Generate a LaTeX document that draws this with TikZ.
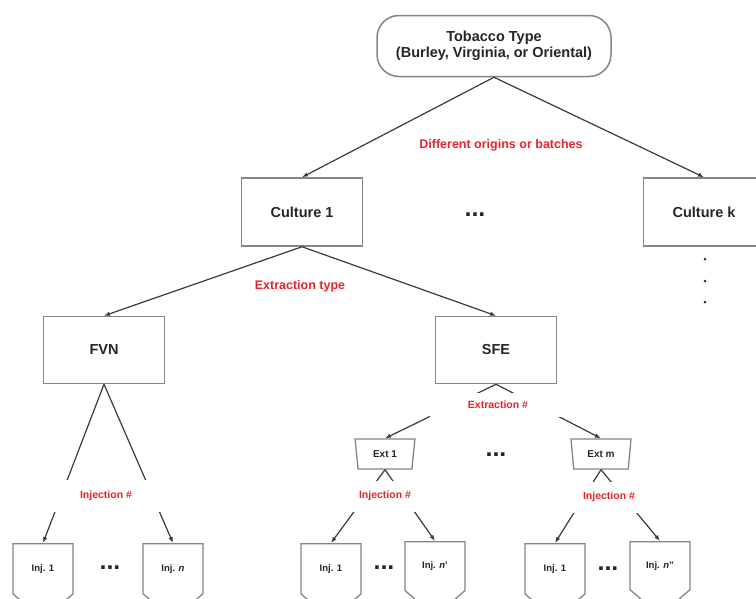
\documentclass[tikz,border=0pt]{standalone}
\usepackage{fontspec}
\setmainfont{Liberation Sans}
\usetikzlibrary{arrows.meta,shapes.geometric,shapes.symbols}
\definecolor{lnk}{HTML}{3A3A3A}
\definecolor{frm}{HTML}{858585}
\definecolor{lbl}{HTML}{E8232B}
\tikzset{box/.style={draw=frm, line width=1.5pt, fill=white, minimum width=121pt, minimum height=67pt, inner sep=0pt, font=\fontsize{14.5}{16}\selectfont\bfseries, text=black!85},
  extbox/.style={trapezium, trapezium left angle=79, trapezium right angle=79, shape border rotate=180, trapezium stretches=true, draw=frm, line width=1.3pt, fill=white, minimum width=60pt, minimum height=30pt, inner sep=0pt, font=\fontsize{10}{12}\selectfont\bfseries, text=black!85},
  injbox/.style={signal, signal to=south, signal pointer angle=98, draw=frm, line width=1.3pt, fill=white, minimum width=60pt, minimum height=60pt, inner sep=0pt, anchor=north, font=\fontsize{9.5}{11}\selectfont\bfseries, text=black!85},
  arr/.style={-{Latex[length=6pt,width=4.5pt]}, line width=1.2pt, lnk},
  tag/.style={font=\fontsize{12.5}{14}\selectfont\bfseries, text=lbl},
  stag/.style={font=\fontsize{10.5}{12}\selectfont\bfseries, text=lbl, fill=white, inner sep=0pt},
  more/.style={font=\fontsize{25}{25}\selectfont\bfseries, text=black!85}}
\begin{document}
\begin{tikzpicture}[x=1pt,y=-1pt]
\useasboundingbox (0,0) rectangle (756,598);
\clip (0,0) rectangle (756,598);
% ---- tobacco type and cultures ----
\node[box, rounded corners=22pt, minimum width=234pt, minimum height=61pt, align=center] (type) at (494,46) {Tobacco Type\\(Burley, Virginia, or Oriental)};
\node[box, minimum height=68pt] (cult1) at (302,212) {Culture 1};
\node[box, minimum height=68pt] (cultk) at (704,212) {Culture k};
\node[more] (cdots) at (475,215) {...};
\foreach \y in {259,281,302} \fill[black!80] (705,\y) circle (1.5pt);
\draw[arr] (type.south) -- (cult1.north);
\draw[arr] (type.south) -- (cultk.north);
\node[tag] (origin) at (501,145) {Different origins or batches};
% ---- extraction type ----
\node[box] (fvn) at (104,350) {FVN};
\node[box] (sfe) at (496,350) {SFE};
\draw[arr] (cult1.south) -- (fvn.north);
\draw[arr] (cult1.south) -- (sfe.north);
\node[tag] (xtype) at (300,286) {Extraction type};
% ---- FVN injections ----
\node[injbox] (fa1) at (43,543) {Inj. 1};
\node[injbox] (fan) at (173,543) {Inj. \textit{n}};
\draw[arr] (fvn.south) -- (fa1.north);
\draw[arr] (fvn.south) -- (fan.north);
\node[stag, minimum width=112pt, minimum height=32pt] (finj) at (106,496) {Injection \#};
\node[more] (fdots) at (110,568) {...};
% ---- SFE extractions ----
\node[extbox] (ext1) at (385,454) {Ext 1};
\node[extbox] (extm) at (601,454) {Ext m};
\draw[arr] (sfe.south) -- (ext1.north);
\draw[arr] (sfe.south) -- (extm.north);
\node[stag, minimum width=136pt, minimum height=24pt] (xnum) at (498,405) {Extraction \#};
\node[more] (edots) at (496,455) {...};
% ---- SFE injections ----
\node[injbox] (sa1) at (331,543) {Inj. 1};
\node[injbox] (san) at (435,541) {Inj. \textit{n}'};
\node[injbox] (sb1) at (555,543) {Inj. 1};
\node[injbox] (sbn) at (660,541) {Inj. \textit{n}''};
\draw[arr] (ext1.south) -- (sa1.north);
\draw[arr] (ext1.south) -- (san.north);
\draw[arr] (extm.south) -- (sb1.north);
\draw[arr] (extm.south) -- (sbn.north);
\node[stag, minimum width=72pt, minimum height=31pt] (ainj) at (385,496) {Injection \#};
\node[stag, minimum width=84pt, minimum height=31pt] (binj) at (609,497) {Injection \#};
\node[more] (adots) at (384,568) {...};
\node[more] (bdots) at (608,569) {...};
\end{tikzpicture}
\end{document}
